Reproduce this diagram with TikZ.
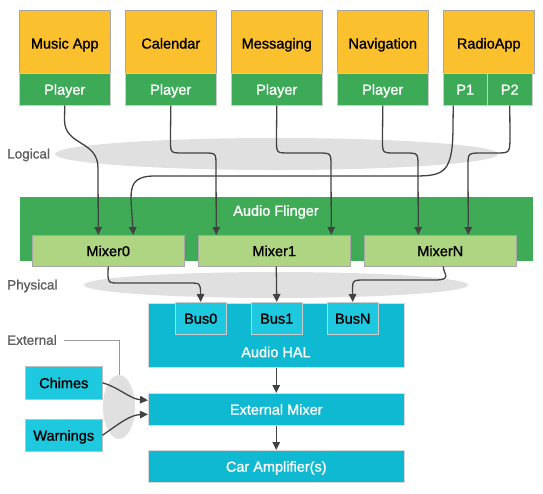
\documentclass[tikz,border=0pt]{standalone}
\usepackage{fontspec}
\setmainfont{Liberation Sans}[FakeBold=1.2]
\usetikzlibrary{arrows.meta,shapes.geometric}
\definecolor{appyellow}{HTML}{FBC02D}
\definecolor{plgreen}{HTML}{3DAA57}
\definecolor{afgreen}{HTML}{40AB56}
\definecolor{mixgreen}{HTML}{AED581}
\definecolor{halcyan}{HTML}{0FB9D2}
\definecolor{buscyan}{HTML}{1EC8DF}
\definecolor{ellgray}{HTML}{E0E0E0}
\definecolor{arrgray}{HTML}{424242}
\definecolor{lblgray}{HTML}{5F5F5F}
\begin{document}
\begin{tikzpicture}[x=1pt,y=-1pt,
  base/.style={rectangle,anchor=north west,inner sep=0pt,text height=10.8pt,text depth=0pt,font=\fontsize{14.5}{16}\selectfont},
  app/.style={base,fill=appyellow,draw=black!35,line width=0.5pt,minimum width=91pt,minimum height=63pt,text height=13.6pt},
  player/.style={base,fill=plgreen,draw=black!20,line width=0.5pt,text=white,minimum height=32pt},
  mixer/.style={base,fill=mixgreen,draw=black!35,line width=0.5pt,minimum width=152pt,minimum height=31pt},
  bus/.style={base,fill=buscyan,draw=black!20,line width=0.5pt,minimum width=51pt,minimum height=32pt},
  hal/.style={base,fill=halcyan,draw=black!15,line width=0.5pt,text=white,minimum width=256pt},
  src/.style={base,fill=buscyan,draw=black!25,line width=0.5pt,minimum width=77pt},
  lbl/.style={anchor=west,inner sep=0pt,text=lblgray,font=\fontsize{13.5}{15}\selectfont},
  ell/.style={ellipse,fill=ellgray,inner sep=0pt},
  arr/.style={draw=arrgray,line width=1.3pt,-{Triangle[length=8pt,width=7.5pt]}}
]
\useasboundingbox (0,0) rectangle (543,493);
% ellipses
\node[ell,minimum width=443pt,minimum height=32pt] (logell) at (276.5,154) {};
\node[ell,minimum width=384pt,minimum height=26pt] (phyell) at (276,285) {};
\node[ell,minimum width=32pt,minimum height=64pt] (extell) at (119,407) {};
% labels
\node[lbl] (loglbl) at (7,155) {Logical};
\node[lbl] (phylbl) at (7,286) {Physical};
\node[lbl] (extlbl) at (7,340) {External};
% apps
\node[app] (music) at (19,10) {Music App};
\node[player,minimum width=91pt] (mplay) at (19,73) {Player};
\node[app] (cal) at (125,10) {Calendar};
\node[player,minimum width=91pt] (cplay) at (125,73) {Player};
\node[app] (msg) at (231,10) {Messaging};
\node[player,minimum width=91pt] (gplay) at (231,73) {Player};
\node[app] (nav) at (337,10) {Navigation};
\node[player,minimum width=91pt] (nplay) at (337,73) {Player};
\node[app] (radio) at (443,10) {RadioApp};
\node[player,minimum width=44pt] (p1) at (443,73) {P1};
\node[player,minimum width=45pt] (p2) at (487,73) {P2};
% audio flinger
\node[base,fill=afgreen,minimum width=513pt,minimum height=64pt] (af) at (20,197) {};
\node[inner sep=0pt,text=white,font=\fontsize{14.5}{16}\selectfont] (aftext) at (276,212) {Audio Flinger};
\node[mixer] (mixer0) at (32,235) {Mixer0};
\node[mixer] (mixer1) at (198,235) {Mixer1};
\node[mixer] (mixern) at (364,235) {MixerN};
% HAL
\node[hal,minimum height=64pt] (hal) at (148,303) {};
\node[inner sep=0pt,text=white,font=\fontsize{14.5}{16}\selectfont] (haltext) at (276,352) {Audio HAL};
\node[bus] (bus0) at (175,302) {Bus0};
\node[bus] (bus1) at (251,302) {Bus1};
\node[bus] (busn) at (327,302) {BusN};
\node[hal,minimum height=32pt] (extmix) at (148,393) {External Mixer};
\node[hal,minimum height=32pt] (car) at (148,450) {Car Amplifier(s)};
\node[src,minimum height=33pt] (chimes) at (25,366) {Chimes};
\node[src,minimum height=32pt] (warn) at (25,419) {Warnings};
% external label line
\draw[draw=black!40,line width=1pt] ([xshift=7pt]extlbl.east) -| (extell.north);
% player connectors
\draw[arr] (mplay.south) -- (64.5,120) .. controls (64.5,146) and (98,140) .. (98,168) -- ([xshift=-10pt]mixer0.north);
\draw[arr] (cplay.south) -- (170.5,140) .. controls (170.5,153) .. (183,153) -- (204,153) .. controls (216,153) .. (216,166) -- ([xshift=-58pt]mixer1.north);
\draw[arr] (gplay.south) -- (276.5,140) .. controls (276.5,153) .. (289,153) -- (318,153) .. controls (331,153) .. (331,166) -- ([xshift=57pt]mixer1.north);
\draw[arr] (nplay.south) -- (382.5,140) .. controls (382.5,153) .. (395,153) -- (405,153) .. controls (418,153) .. (418,166) -- ([xshift=-22pt]mixern.north);
\draw[arr] ([xshift=-12pt]p1.south) -- (453,125) .. controls (453,172) and (445,176) .. (415,176) -- (155,176) .. controls (133,176) and (131,185) .. (131,200) -- ([xshift=25pt]mixer0.north);
\draw[arr] (p2.south) -- (510,135) .. controls (510,153) .. (496,153) -- (482,153) .. controls (468,153) .. (468,166) -- ([xshift=28pt]mixern.north);
% mixer to bus
\draw[arr] (mixer0.south) -- (108,272) .. controls (108,283) .. (120,283) -- (188,283) .. controls (200.5,283) .. (200.5,294) -- (bus0.north);
\draw[arr] ([xshift=2pt]mixer1.south) -- (bus1.north);
\draw[arr] ([xshift=3pt]mixern.south) .. controls (443,273) and (453,280) .. (435,280) -- (365,280) .. controls (352.5,280) .. (352.5,292) -- (busn.north);
% HAL chain
\draw[arr] (hal.south) -- (extmix.north);
\draw[arr] (extmix.south) -- (car.north);
% external sources
\draw[arr] (chimes.east) .. controls (120,388) and (130,399) .. ([yshift=9pt]extmix.west);
\draw[arr] (warn.east) .. controls (120,423) and (130,415) .. ([yshift=-5pt]extmix.west);
\end{tikzpicture}
\end{document}
